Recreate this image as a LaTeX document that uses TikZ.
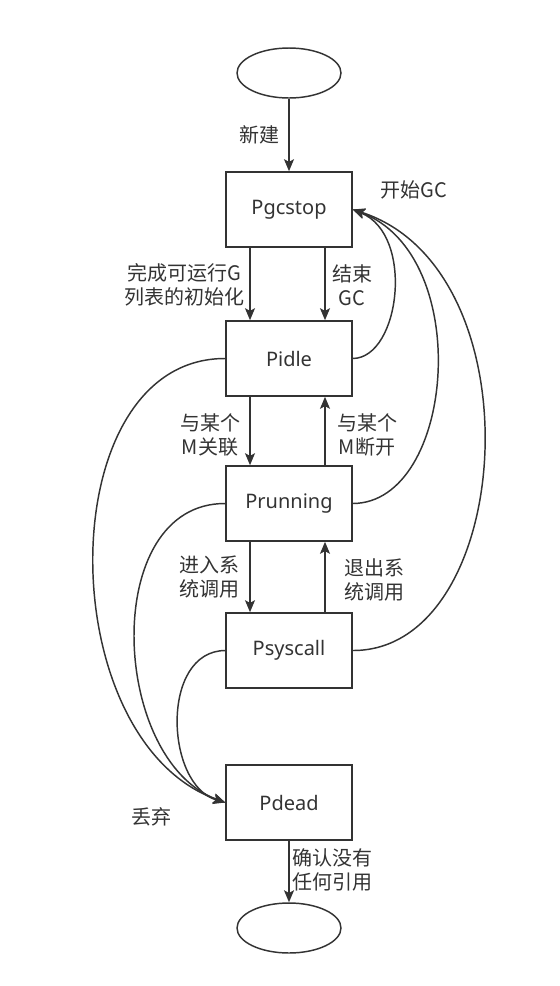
\documentclass[tikz,border=0pt]{standalone}
\usepackage{fontspec}
\setmainfont{Noto Sans}
\newfontfamily\cjk{Noto Sans CJK SC}
\usepackage{tikz}
\usetikzlibrary{positioning,shapes.geometric,arrows.meta}
\definecolor{ink}{RGB}{51,51,51}

\begin{document}
\begin{tikzpicture}[x=0.75pt,y=-0.75pt,
  state/.style={rectangle,draw=ink,line width=1.2pt,minimum width=94.5pt,minimum height=56.25pt,inner sep=0,font=\fontsize{15}{18}\selectfont,text=ink},
  endpt/.style={ellipse,draw=ink,line width=1.1pt,minimum width=78pt,minimum height=37.5pt,inner sep=0},
  lbl/.style={align=center,text=ink,font=\cjk\fontsize{15}{18}\selectfont,inner sep=0},
  arr/.style={draw=ink,line width=1.1pt,-{Stealth[length=9pt,width=7.5pt,inset=2pt]}}]
\useasboundingbox (0,0) rectangle (560,986);
\node[endpt] (born) at (289,73) {};
\node[state] (pgcstop) at (289,209.5) {Pgcstop};
\node[state] (pidle) at (289,358.5) {Pidle};
\node[state] (prunning) at (289,503.5) {Prunning};
\node[state] (psyscall) at (289,650.5) {Psyscall};
\node[state] (pdead) at (289,802.5) {Pdead};
\node[endpt] (gone) at (289,928) {};
\draw[arr] (born) -- (pgcstop);
\draw[arr] ([xshift=-29.25pt]pgcstop.south) -- ([xshift=-29.25pt]pidle.north);
\draw[arr] ([xshift=27pt]pgcstop.south) -- ([xshift=27pt]pidle.north);
\draw[arr] ([xshift=-29.25pt]pidle.south) -- ([xshift=-29.25pt]prunning.north);
\draw[arr] ([xshift=27pt]prunning.north) -- ([xshift=27pt]pidle.south);
\draw[arr] ([xshift=-29.25pt]prunning.south) -- ([xshift=-29.25pt]psyscall.north);
\draw[arr] ([xshift=27pt]psyscall.north) -- ([xshift=27pt]prunning.south);
\draw[arr] (pdead) -- (gone);
% back to Pgcstop
\draw[arr] (pidle.east) .. controls (400,358) and (415,235) .. (pgcstop.east);
\draw[arr] (prunning.east) .. controls (455,503) and (475,255) .. (pgcstop.east);
\draw[arr] (psyscall.east) .. controls (515,651) and (540,270) .. (pgcstop.east);
% down to Pdead
\draw[arr] (pidle.west) .. controls (50,358) and (50,740) .. (pdead.west);
\draw[arr] (prunning.west) .. controls (100,503) and (110,760) .. (pdead.west);
\draw[arr] (psyscall.west) .. controls (160,651) and (165,785) .. (pdead.west);
\node[lbl] (l1) at (259,135) {新建};
\node[lbl] (l2) at (414,190) {开始GC};
\node[lbl] (l3) at (184,285) {完成可运行G\\列表的初始化};
\node[lbl] (l4) at (352,285) {结束\\GC};
\node[lbl] (l5) at (210,435) {与某个\\M关联};
\node[lbl] (l6) at (367,435) {与某个\\M断开};
\node[lbl] (l7) at (209,577) {进入系\\统调用};
\node[lbl] (l8) at (374,580) {退出系\\统调用};
\node[lbl] (l9) at (151,817) {丢弃};
\node[lbl] (l10) at (332,870) {确认没有\\任何引用};
\end{tikzpicture}
\end{document}
